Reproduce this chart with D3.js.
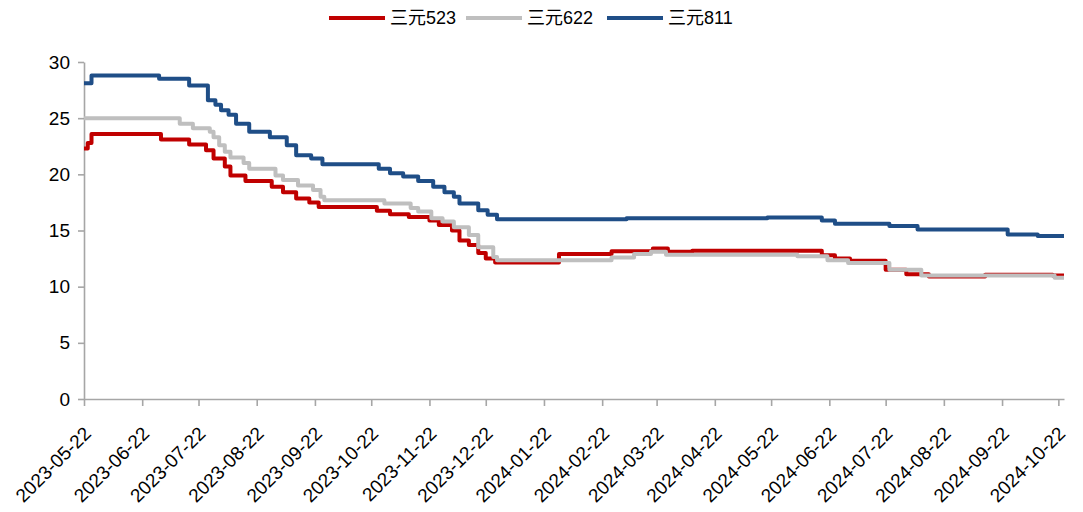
<!DOCTYPE html>
<html>
<head>
<meta charset="utf-8">
<script src="https://cdn.jsdelivr.net/npm/d3@7"></script>
<style>
  body { margin: 0; background: #fff; }
  text { font-family: "Liberation Sans", Arial, sans-serif; fill: #000; }
</style>
</head>
<body>
<div id="chart"></div>
<script>
// series names
const seriesNames = ["三元523", "三元622", "三元811"];
const seriesColors = ["#c00000", "#bfbfbf", "#1f4e87"];

// change points: [date, price] (step after)
const ncm523 = [
  ["2023-05-22", 22.3], ["2023-05-24", 22.8], ["2023-05-26", 23.6], ["2023-07-02", 23.1],
  ["2023-07-17", 22.65], ["2023-07-26", 22.15], ["2023-07-30", 21.4], ["2023-08-05", 20.7],
  ["2023-08-08", 19.9], ["2023-08-16", 19.4], ["2023-08-30", 18.9], ["2023-09-05", 18.4],
  ["2023-09-12", 17.85], ["2023-09-19", 17.5], ["2023-09-24", 17.1], ["2023-10-25", 16.75],
  ["2023-11-01", 16.45], ["2023-11-11", 16.2], ["2023-11-22", 15.9], ["2023-11-27", 15.5],
  ["2023-12-04", 15.0], ["2023-12-08", 14.1], ["2023-12-13", 13.7], ["2023-12-18", 13.0],
  ["2023-12-22", 12.5], ["2023-12-27", 12.15], ["2024-01-30", 12.9], ["2024-02-27", 13.15],
  ["2024-03-20", 13.4], ["2024-03-28", 13.1], ["2024-04-10", 13.2], ["2024-06-18", 12.8],
  ["2024-06-25", 12.5], ["2024-07-03", 12.3], ["2024-07-22", 11.5], ["2024-08-02", 11.1],
  ["2024-08-14", 10.9], ["2024-09-13", 11.05], ["2024-10-19", 11.0], ["2024-10-25", 11.0]
];
const ncm622 = [
  ["2023-05-22", 25.0], ["2023-07-12", 24.5], ["2023-07-19", 24.1], ["2023-07-28", 23.8],
  ["2023-07-30", 23.3], ["2023-08-02", 22.6], ["2023-08-05", 22.0], ["2023-08-08", 21.5],
  ["2023-08-15", 21.0], ["2023-08-18", 20.5], ["2023-09-01", 19.9], ["2023-09-05", 19.5],
  ["2023-09-13", 19.0], ["2023-09-21", 18.6], ["2023-09-25", 18.0], ["2023-09-27", 17.7],
  ["2023-10-29", 17.4], ["2023-11-12", 17.0], ["2023-11-16", 16.7], ["2023-11-23", 16.1],
  ["2023-11-29", 15.8], ["2023-12-05", 15.3], ["2023-12-13", 14.6], ["2023-12-18", 13.5],
  ["2023-12-26", 12.65], ["2023-12-28", 12.35], ["2024-02-27", 12.6], ["2024-03-10", 12.9],
  ["2024-03-19", 13.1], ["2024-03-27", 12.85], ["2024-06-05", 12.7], ["2024-06-21", 12.35],
  ["2024-07-02", 12.1], ["2024-07-24", 11.5], ["2024-08-10", 11.0], ["2024-10-20", 10.8],
  ["2024-10-25", 10.8]
];
const ncm811 = [
  ["2023-05-22", 28.1], ["2023-05-26", 28.8], ["2023-07-01", 28.5], ["2023-07-17", 27.9],
  ["2023-07-27", 26.6], ["2023-07-31", 26.2], ["2023-08-03", 25.7], ["2023-08-07", 25.3],
  ["2023-08-11", 24.5], ["2023-08-18", 23.8], ["2023-08-29", 23.3], ["2023-09-07", 22.6],
  ["2023-09-12", 21.7], ["2023-09-20", 21.4], ["2023-09-26", 20.9], ["2023-10-26", 20.5],
  ["2023-11-01", 20.1], ["2023-11-08", 19.8], ["2023-11-16", 19.4], ["2023-11-24", 18.9],
  ["2023-11-30", 18.4], ["2023-12-05", 18.0], ["2023-12-08", 17.4], ["2023-12-18", 16.8],
  ["2023-12-23", 16.4], ["2023-12-28", 16.0], ["2024-03-06", 16.1], ["2024-05-20", 16.15],
  ["2024-06-18", 15.9], ["2024-06-25", 15.6], ["2024-07-24", 15.4], ["2024-08-08", 15.1],
  ["2024-09-25", 14.65], ["2024-10-11", 14.5], ["2024-10-25", 14.5]
];

const tickDates = ["2023-05-22", "2023-06-22", "2023-07-22", "2023-08-22", "2023-09-22",
  "2023-10-22", "2023-11-22", "2023-12-22", "2024-01-22", "2024-02-22", "2024-03-22",
  "2024-04-22", "2024-05-22", "2024-06-22", "2024-07-22", "2024-08-22", "2024-09-22",
  "2024-10-22"];
const yTicks = [0, 5, 10, 15, 20, 25, 30];

const W = 1083, H = 512;
const parse = d3.timeParse("%Y-%m-%d");

const svg = d3.select("#chart").append("svg")
    .attr("width", W)
    .attr("height", H);

const x = d3.scaleTime()
    .domain([parse("2023-05-22"), parse("2024-10-25")])
    .range([84, 1064]);
const y = d3.scaleLinear()
    .domain([0, 30])
    .range([399, 62]);

// Y axis
const yAxis = svg.append("g")
    .attr("transform", "translate(84,0)")
    .call(d3.axisLeft(y).tickValues(yTicks).tickSize(6).tickPadding(8).tickSizeOuter(0));
yAxis.selectAll("text").style("font-size", "19px");

// X axis
const xAxis = svg.append("g")
    .attr("transform", "translate(0,399)")
    .call(d3.axisBottom(x)
        .tickValues(tickDates.map(parse))
        .tickFormat(d3.timeFormat("%Y-%m-%d"))
        .tickSize(7)
        .tickSizeOuter(0));
xAxis.selectAll("text")
    .style("font-size", "19px")
    .style("text-anchor", "end")
    .attr("x", 0)
    .attr("y", 0)
    .attr("dy", "0.35em")
    .attr("transform", "translate(3,31) rotate(-45)");

svg.selectAll(".domain, .tick line")
    .attr("stroke", "#a6a6a6")
    .attr("stroke-width", 1.6);

// lines
const line = d3.line()
    .x(d => x(parse(d[0])))
    .y(d => y(d[1]))
    .curve(d3.curveStepAfter);

[ncm523, ncm622, ncm811].forEach((s, i) => {
    svg.append("path")
        .datum(s)
        .attr("fill", "none")
        .attr("stroke", seriesColors[i])
        .attr("stroke-width", 4)
        .attr("stroke-linejoin", "round")
        .attr("d", line);
});

// legend
const legendX = [329, 466, 607];
const legend = svg.append("g");
seriesNames.forEach((name, i) => {
    legend.append("line")
        .attr("x1", legendX[i]).attr("x2", legendX[i] + 56)
        .attr("y1", 18).attr("y2", 18)
        .attr("stroke", seriesColors[i])
        .attr("stroke-width", 4);
    legend.append("text")
        .attr("x", legendX[i] + 61)
        .attr("y", 24)
        .style("font-size", "18px")
        .style("font-family", "'Liberation Sans', 'Noto Sans CJK SC', sans-serif")
        .text(name);
});
</script>
</body>
</html>
